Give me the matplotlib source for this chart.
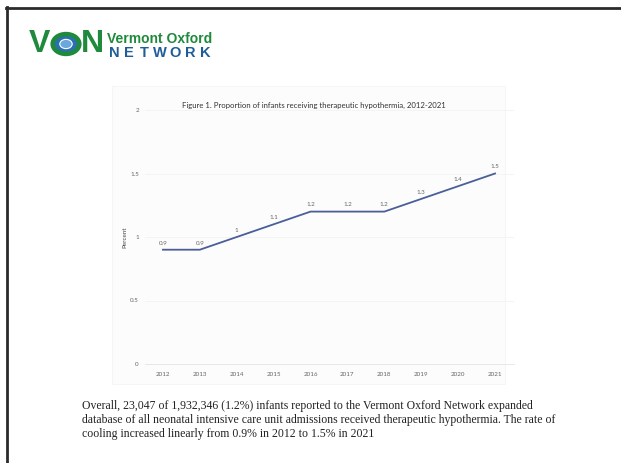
import matplotlib
matplotlib.use("Agg")
import matplotlib.pyplot as plt
from matplotlib.patches import Circle, Rectangle
from matplotlib.lines import Line2D

# data
years = ['2012', '2013', '2014', '2015', '2016', '2017', '2018', '2019', '2020', '2021']
percent = [0.9, 0.9, 1.0, 1.1, 1.2, 1.2, 1.2, 1.3, 1.4, 1.5]
point_labels = ['0.9', '0.9', '1', '1.1', '1.2', '1.2', '1.2', '1.3', '1.4', '1.5']
yticks = [0, 0.5, 1, 1.5, 2]
ytick_labels = ['0', '0.5', '1', '1.5', '2']

title = 'Figure 1. Proportion of infants receiving therapeutic hypothermia, 2012-2021'
caption = ('Overall, 23,047 of 1,932,346 (1.2%) infants reported to the Vermont Oxford Network expanded\n'
           'database of all neonatal intensive care unit admissions received therapeutic hypothermia. The rate of\n'
           'cooling increased linearly from 0.9% in 2012 to 1.5% in 2021')

W, H = 621, 463
fig = plt.figure(figsize=(W / 100, H / 100), dpi=100)

def fx(px):
    return px / W

def fy(py):
    return 1 - py / H

# page frame (top and left edges only)
fig.add_artist(Line2D([fx(6), 1], [fy(7.5), fy(7.5)], color='#2b2b2b', lw=2))
fig.add_artist(Line2D([fx(6.5), fx(6.5)], [fy(7), 0], color='#2b2b2b', lw=2))

# logo
green = '#1f8a3c'
blue = '#1d5d99'
fig.text(fx(39), fy(44), 'V', color=green, fontsize=23, fontweight='bold',
         family='Liberation Sans', va='center', ha='center')
fig.add_artist(Circle((fx(66), fy(44)), 0.0215, transform=fig.transFigure,
                      facecolor='#2a6fb0', edgecolor=green, lw=3.2))
fig.add_artist(Circle((fx(66), fy(44)), 0.010, transform=fig.transFigure,
                      facecolor='#6aa8dc', edgecolor='white', lw=0.8))
fig.text(fx(92), fy(44), 'N', color=green, fontsize=23, fontweight='bold',
         family='Liberation Sans', va='center', ha='center')
fig.text(fx(107), fy(39), 'Vermont Oxford', color=green, fontsize=10, fontweight='bold',
         family='Liberation Sans', va='center', ha='left')
for i, ch in enumerate('NETWORK'):
    fig.text(fx(114 + i * 15.2), fy(53), ch, color=blue, fontsize=10.5, fontweight='bold',
             family='Liberation Sans', va='center', ha='center')

# faint panel behind the chart image
fig.add_artist(Rectangle((fx(112), fy(384)), fx(505) - fx(112), fy(86) - fy(384),
                         transform=fig.transFigure, facecolor='#fcfcfc', edgecolor='#f2f2f2',
                         lw=0.5, zorder=-1))

fig.text(fx(314), fy(105), title, fontsize=5.6, family='Lato', color='#333333',
         ha='center', va='center')

ax = fig.add_axes([fx(144.5), fy(364), fx(513.5) - fx(144.5), fy(110) - fy(364)])
ax.set_facecolor('none')
x = list(range(len(years)))
ax.plot(x, percent, color='#4a5e98', lw=1.3)
for xi, v, lab in zip(x, percent, point_labels):
    ax.annotate(lab, (xi, v), xytext=(0, 3), textcoords='offset points',
                ha='center', va='bottom', fontsize=4.5, color='#666666', family='Lato')

ax.set_xlim(-0.5, len(years) - 0.5)
ax.set_ylim(0, 2)
ax.set_xticks(x)
ax.set_xticklabels(years)
ax.set_yticks(yticks)
ax.set_yticklabels(ytick_labels)
ax.tick_params(axis='x', length=0, labelsize=4.5, labelcolor='#666666', pad=6)
ax.tick_params(axis='y', length=0, labelsize=4.5, labelcolor='#666666', pad=4)
for lab in ax.get_xticklabels() + ax.get_yticklabels():
    lab.set_family('Lato')
for yt in yticks[1:]:
    ax.axhline(yt, color='#f3f3f3', lw=0.6, zorder=0)
for s in ['top', 'right', 'left']:
    ax.spines[s].set_visible(False)
ax.spines['bottom'].set_color('#e4e4e4')
ax.spines['bottom'].set_linewidth(0.6)
ax.set_ylabel('Percent', fontsize=4.5, color='#444444', family='Lato', labelpad=2)

fig.text(fx(81.5), fy(420), caption, fontsize=8.5, family='Liberation Serif', color='#222222',
         ha='left', va='center', linespacing=1.2)

fig.savefig('out.png', dpi=100)
